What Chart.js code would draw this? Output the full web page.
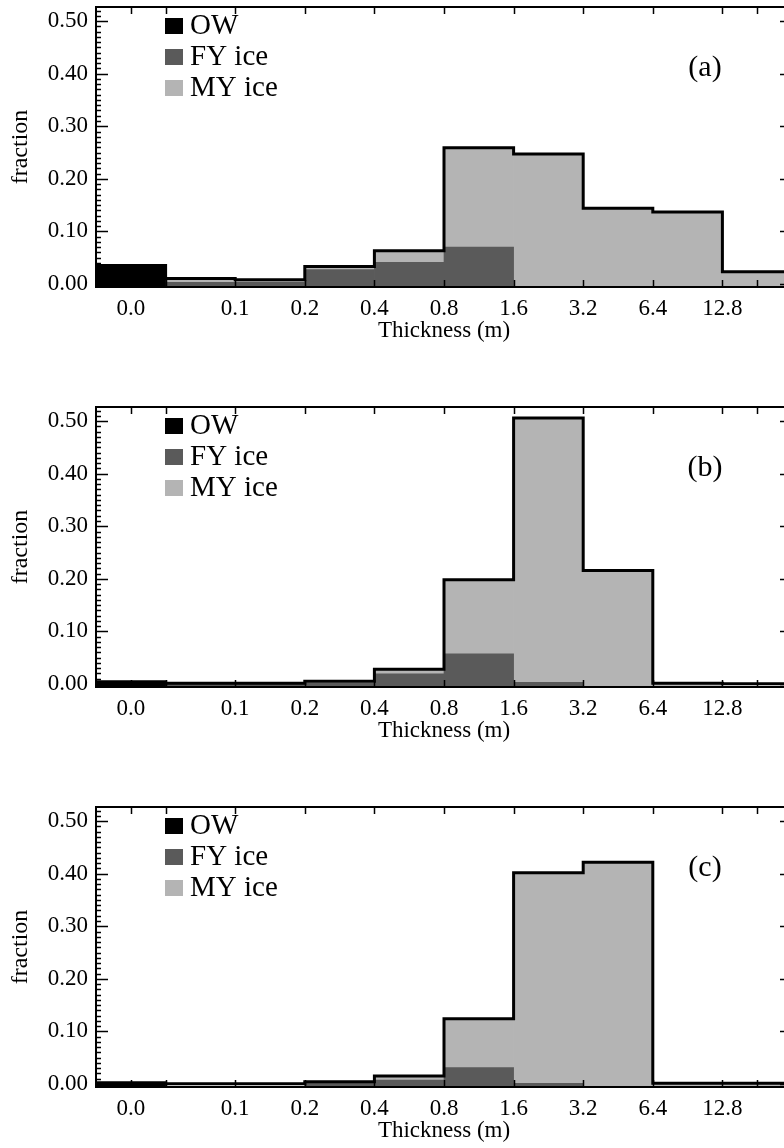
<!DOCTYPE html>
<html>
<head>
<meta charset="utf-8">
<script src="https://cdn.jsdelivr.net/npm/chart.js@4.4.1/dist/chart.umd.min.js"></script>
<style>
  html, body { margin: 0; padding: 0; background: #fff; overflow: hidden; }
  #wrap { position: relative; width: 784px; height: 1148px; overflow: hidden; }
  canvas { position: absolute; left: 0; }
</style>
</head>
<body>
<div id="wrap">
  <canvas id="painel-a" width="810" height="380" style="top:0"></canvas>
  <canvas id="painel-b" width="810" height="380" style="top:400px"></canvas>
  <canvas id="painel-c" width="810" height="348" style="top:800px"></canvas>
</div>
<script>
// thickness bins (first one is open water)
const categories = ["OW", "0-0.1", "0.1-0.2", "0.2-0.4", "0.4-0.8", "0.8-1.6", "1.6-3.2", "3.2-6.4", "6.4-12.8", ">12.8"];
// x tick positions in bin units and their labels
const tickPos = [0.5, 1, 2, 3, 4, 5, 6, 7, 8, 9, 9.5];
const tickLabels = ["0.0", "", "0.1", "0.2", "0.4", "0.8", "1.6", "3.2", "6.4", "12.8", ""];
const yTicks = [0, 0.1, 0.2, 0.3, 0.4, 0.5];

// (a)
const owA = [0.035, 0, 0, 0, 0, 0, 0, 0, 0, 0];
const fyA = [0, 0.003, 0.003, 0.027, 0.041, 0.070, 0, 0, 0, 0];
const myA = [0, 0.007, 0.005, 0.006, 0.022, 0.189, 0.247, 0.144, 0.137, 0.023];
// (b)
const owB = [0.004, 0, 0, 0, 0, 0, 0, 0, 0, 0];
const fyB = [0, 0.001, 0.001, 0.001, 0.019, 0.057, 0.003, 0, 0, 0];
const myB = [0, 0, 0, 0.004, 0.009, 0.141, 0.503, 0.216, 0.001, 0];
// (c)
const owC = [0.002, 0, 0, 0, 0, 0, 0, 0, 0, 0];
const fyC = [0, 0, 0, 0.001, 0.007, 0.031, 0.001, 0, 0, 0];
const myC = [0, 0, 0, 0.003, 0.008, 0.093, 0.401, 0.422, 0.001, 0.001];

const Y_MIN = -0.006;
const Y_MAX = 0.527;
const FONTE = "'Liberation Serif', 'Times New Roman', serif";
const COR_OW = "#000000";
const COR_FY = "#5a5a5a";
const COR_MY = "#b4b4b4";

// frame with inward ticks, legend and panel letter
const moldura = {
  id: "moldura",
  afterDatasetsDraw(chart, args, opts) {
    const { ctx, chartArea: a, scales } = chart;
    const y = scales.y, xt = scales.xt;
    ctx.save();
    ctx.strokeStyle = "#000";
    ctx.lineWidth = 1.5;
    ctx.beginPath();
    for (let v = 0; v <= y.max + 1e-9; v += 0.01) {
      const py = Math.round(y.getPixelForValue(v)) + 0.5;
      ctx.moveTo(a.left, py); ctx.lineTo(a.left + 5, py);
    }
    y.ticks.forEach((t) => {
      const py = Math.round(y.getPixelForValue(t.value)) + 0.5;
      ctx.moveTo(a.left, py); ctx.lineTo(a.left + 12, py);
      ctx.moveTo(a.right, py); ctx.lineTo(a.right - 12, py);
    });
    xt.ticks.forEach((t) => {
      const px = Math.round(xt.getPixelForValue(t.value)) + 0.5;
      ctx.moveTo(px, a.top); ctx.lineTo(px, a.top + 7);
      ctx.moveTo(px, a.bottom); ctx.lineTo(px, a.bottom - 7);
    });
    ctx.stroke();
    ctx.lineWidth = 2;
    ctx.strokeRect(a.left, a.top, a.right - a.left, a.bottom - a.top);

    // legend
    ctx.font = `29px ${FONTE}`;
    ctx.textBaseline = "alphabetic";
    chart.data.datasets.filter((d) => d.type !== "line").forEach((d, i) => {
      const base = a.top + 27 + i * 31;
      ctx.fillStyle = d.backgroundColor;
      ctx.fillRect(a.left + 69, base - 16, 18, 16);
      ctx.fillStyle = "#000";
      ctx.fillText(d.label, a.left + 94, base);
    });
    ctx.font = `30px ${FONTE}`;
    ctx.textAlign = "center";
    ctx.textBaseline = "middle";
    ctx.fillText(opts.rotulo, 705, a.top + 61);
    ctx.restore();
  }
};

function montarPainel(id, rotulo, ow, fy, my) {
  const canvas = document.getElementById(id);
  // stacked heights drawn as overlapping bars from the axis floor
  const fyCum = fy.map((v, i) => v + ow[i]);
  const myCum = my.map((v, i) => v + fyCum[i]);
  const contorno = myCum.map((v, i) => ({ x: i, y: v }));
  contorno.push({ x: categories.length, y: myCum[myCum.length - 1] });
  const barra = { xAxisID: "x", base: Y_MIN, grouped: false, barPercentage: 1, categoryPercentage: 1, borderWidth: 0 };

  return new Chart(canvas, {
    type: "bar",
    data: {
      labels: categories,
      datasets: [
        { ...barra, label: "OW", data: ow.map((v) => (v > 0 ? v : null)), backgroundColor: COR_OW },
        { ...barra, label: "FY ice", data: fyCum.map((v, i) => (fy[i] > 0 ? v : null)), backgroundColor: COR_FY },
        { ...barra, label: "MY ice", data: myCum.map((v, i) => (my[i] > 0 ? v : null)), backgroundColor: COR_MY },
        { type: "line", label: "total", data: contorno, xAxisID: "xt", stepped: "before", borderColor: "#000", borderWidth: 3, pointRadius: 0, fill: false, order: -1 }
      ]
    },
    options: {
      responsive: false,
      animation: false,
      layout: { padding: { top: 7, right: 18, left: 0, bottom: canvas.height - 345 } },
      plugins: { legend: { display: false }, tooltip: { enabled: false }, moldura: { rotulo } },
      scales: {
        x: { type: "category", display: false, offset: true },
        xt: {
          type: "linear", position: "bottom", min: 0, max: categories.length, offset: false,
          afterBuildTicks: (s) => { s.ticks = tickPos.map((v) => ({ value: v })); },
          afterFit: (s) => { s.height = 58; s.paddingLeft = 0; s.paddingRight = 0; },
          grid: { display: false, drawTicks: false, offset: false },
          border: { display: false },
          ticks: { autoSkip: false, maxRotation: 0, padding: 8, color: "#000", font: { family: FONTE, size: 23 }, callback: (v, i) => tickLabels[i] },
          title: { display: true, text: "Thickness (m)", color: "#000", font: { family: FONTE, size: 23 }, padding: 0 }
        },
        y: {
          min: Y_MIN, max: Y_MAX,
          afterBuildTicks: (s) => { s.ticks = yTicks.map((v) => ({ value: v })); },
          afterFit: (s) => { s.width = 96; s.paddingTop = 0; s.paddingBottom = 0; },
          grid: { display: false, drawTicks: false },
          border: { display: false },
          ticks: { padding: 8, color: "#000", font: { family: FONTE, size: 23 }, callback: (v) => Number(v).toFixed(2) },
          title: { display: true, text: "fraction", color: "#000", font: { family: FONTE, size: 24 }, padding: { top: 6, bottom: 0 } }
        }
      }
    },
    plugins: [moldura]
  });
}

montarPainel("painel-a", "(a)", owA, fyA, myA);
montarPainel("painel-b", "(b)", owB, fyB, myB);
montarPainel("painel-c", "(c)", owC, fyC, myC);
</script>
</body>
</html>
